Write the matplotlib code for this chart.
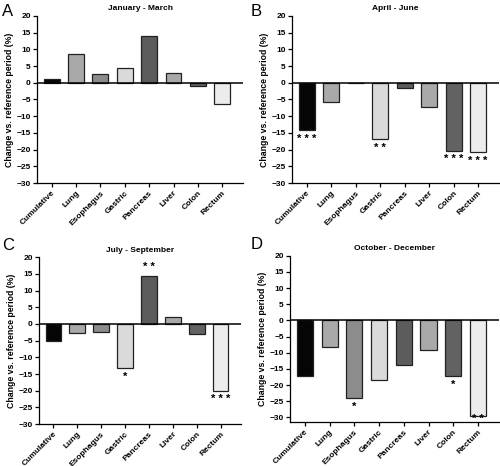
import numpy as np
import matplotlib.pyplot as plt

plt.rcParams['font.family'] = ['Liberation Sans', 'DejaVu Sans']

categories = ["Cumulative", "Lung", "Esophagus", "Gastric", "Pancreas", "Liver", "Colon", "Rectum"]
bar_colors = ["#050505", "#a9a9a9", "#8c8c8c", "#dadada", "#5c5c5c", "#a9a9a9", "#626262", "#ececec"]

titles = ["January - March", "April - June", "July - September", "October - December"]
letters = ["A", "B", "C", "D"]

jan_mar = [1.0, 8.7, 2.5, 4.5, 14.0, 3.0, -1.0, -6.2]
apr_jun = [-14.2, -5.8, 0.0, -16.8, -1.5, -7.3, -20.3, -20.8]
jul_sep = [-5.0, -2.8, -2.5, -13.3, 14.5, 2.0, -3.0, -20.0]
oct_dec = [-17.2, -8.2, -24.0, -18.5, -13.8, -9.2, -17.3, -29.5]

stars_apr_jun = ["***", "", "", "**", "", "", "***", "***"]
stars_jul_sep = ["", "", "", "*", "**", "", "", "***"]
stars_oct_dec = ["", "", "*", "", "", "", "*", "**"]
stars_jan_mar = [""] * 8

panels = [
    (jan_mar, stars_jan_mar, [0.074, 0.607, 0.412, 0.359], -30, (0.004, 0.975)),
    (apr_jun, stars_apr_jun, [0.584, 0.607, 0.414, 0.359], -30, (0.502, 0.975)),
    (jul_sep, stars_jul_sep, [0.078, 0.090, 0.404, 0.358], -30, (0.004, 0.474)),
    (oct_dec, stars_oct_dec, [0.580, 0.094, 0.418, 0.357], -31.5, (0.502, 0.476)),
]

fig = plt.figure(figsize=(5, 4.66), dpi=100)

for i, (vals, stars, pos, ybot, lpos) in enumerate(panels):
    ax = fig.add_axes(pos)
    x = np.arange(len(categories))
    ax.bar(x, vals, width=0.65, color=bar_colors, edgecolor="#222222", linewidth=0.9, zorder=2)
    ax.axhline(0, color="black", linewidth=1.1, zorder=3)
    ax.set_xlim(-0.6, 7.85)
    ax.set_ylim(ybot, 20)
    ax.set_yticks(np.arange(-30, 21, 5))
    ax.set_xticks(x)
    ax.set_xticklabels(categories, rotation=45, ha="right", rotation_mode="anchor",
                       fontsize=6, fontweight="bold")
    for lbl in ax.get_yticklabels():
        lbl.set_fontsize(6)
        lbl.set_fontweight("bold")
    ax.tick_params(axis="both", length=3, width=0.9, pad=1.5)
    ax.spines["top"].set_visible(False)
    ax.spines["right"].set_visible(False)
    ax.spines["left"].set_linewidth(0.9)
    ax.spines["bottom"].set_linewidth(0.9)
    ax.spines["left"].set_bounds(ybot, 20)
    ax.set_ylabel("Change vs. reference period (%)", fontsize=6.3, fontweight="bold", labelpad=2)
    ax.set_title(titles[i], fontsize=6, fontweight="bold", pad=4)
    fig.text(lpos[0], lpos[1], letters[i], fontsize=12, ha="left", va="center")

    for xi, v, s in zip(x, vals, stars):
        if not s:
            continue
        label = " ".join(s)
        if v >= 0:
            ax.text(xi, v + 1.0, label, ha="center", va="bottom", fontsize=8, fontweight="bold")
        else:
            y = max(v - 2.6, ybot + 0.9)
            ax.text(xi, y, label, ha="center", va="center", fontsize=8, fontweight="bold")

fig.savefig("out.png", dpi=100)
